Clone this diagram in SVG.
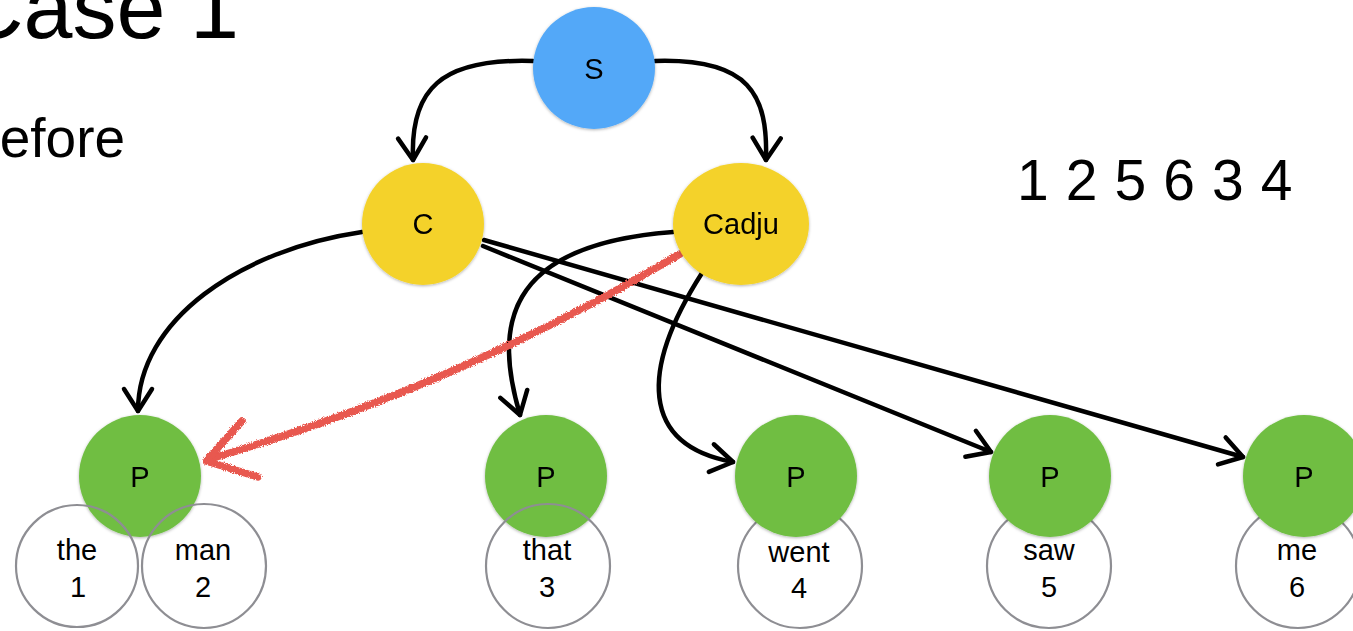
<svg xmlns="http://www.w3.org/2000/svg" width="1353" height="631" viewBox="0 0 1353 631">
  <style>
    .lbl { font-family: "Liberation Sans", Arial, sans-serif; font-size: 29px; fill: #000; text-anchor: middle; }
    .title { font-family: "Liberation Sans", Arial, sans-serif; fill: #000; }
    .edge { fill: none; stroke: #000; stroke-width: 4.5; stroke-linecap: round; }
    .word { fill: #fff; stroke: #8e8e93; stroke-width: 2.2; }
    .wordo { fill: none; stroke: #8e8e93; stroke-width: 2.2; }
    .s { fill: #52a8f8; }
    .c { fill: #f4d22a; }
    .p { fill: #6fbe43; }
    .chalk { fill: none; stroke: #e8584f; stroke-width: 7.5; stroke-linecap: round; stroke-linejoin: round; }
  </style>
  <defs>
    <marker id="arr" markerUnits="userSpaceOnUse" markerWidth="44" markerHeight="44" refX="0" refY="0" viewBox="-28 -22 34 44" orient="auto">
      <path d="M-22,-14 L0,0 L-22,14" fill="none" stroke="#000" stroke-width="4.5" stroke-linecap="round" stroke-linejoin="round"/>
    </marker>
    <filter id="sh" x="-20%" y="-20%" width="140%" height="140%">
      <feDropShadow dx="0" dy="1" stdDeviation="1.5" flood-color="#000" flood-opacity="0.3"/>
    </filter>
    <filter id="rough" x="-10%" y="-10%" width="120%" height="120%">
      <feTurbulence type="fractalNoise" baseFrequency="0.9" numOctaves="2" seed="3" result="n"/>
      <feDisplacementMap in="SourceGraphic" in2="n" scale="4.5" xChannelSelector="R" yChannelSelector="G"/>
    </filter>
  </defs>

  <rect width="1353" height="631" fill="#fff"/>

  <text class="title" x="-40" y="38" font-size="88">Case 1</text>
  <text class="title" x="-37" y="157" font-size="55">Before</text>
  <text class="title" x="1017" y="200" font-size="57" letter-spacing="0.6">1 2 5 6 3 4</text>

  <g id="connectors">
    <path class="edge" d="M533,61 C440,58 410,90 413,160" marker-end="url(#arr)"/>
    <path class="edge" d="M655,61 C750,58 768,95 766,160" marker-end="url(#arr)"/>
    <path class="edge" d="M362,232 C240,250 138,320 138,411" marker-end="url(#arr)"/>
    <path class="edge" d="M673,232 C500,245 495,330 520,415" marker-end="url(#arr)"/>
    <path class="edge" d="M702,273 C640,370 640,445 733,462" marker-end="url(#arr)"/>
    <path class="edge" d="M483,246 L991,452" marker-end="url(#arr)"/>
    <path class="edge" d="M484,240 L1243,457" marker-end="url(#arr)"/>
    <g id="red-arrow" filter="url(#rough)">
      <path class="chalk" d="M680,254 Q460,385 213,458"/>
      <path class="chalk" d="M242,421 L206,461 L258,477"/>
    </g>
  </g>

  <g id="word-went"><circle class="word" cx="800" cy="566" r="62"/><text class="lbl" x="799" y="562">went</text><text class="lbl" x="799" y="598">4</text></g>
  <g id="word-saw"><circle class="word" cx="1049" cy="566" r="62"/><text class="lbl" x="1049" y="560">saw</text><text class="lbl" x="1049" y="597">5</text></g>
  <g id="word-me"><circle class="word" cx="1298" cy="566" r="62"/><text class="lbl" x="1297" y="560">me</text><text class="lbl" x="1297" y="597">6</text></g>

  <g id="node-S" filter="url(#sh)"><circle class="s" cx="594" cy="68" r="61"/><text class="lbl" x="594" y="79">S</text></g>
  <g id="node-C" filter="url(#sh)"><circle class="c" cx="423" cy="224" r="61"/><text class="lbl" x="423" y="234">C</text></g>
  <g id="node-Cadju" filter="url(#sh)"><ellipse class="c" cx="741" cy="224" rx="68" ry="61"/><text class="lbl" x="741" y="234">Cadju</text></g>

  <g id="node-P1" filter="url(#sh)"><circle class="p" cx="140" cy="476" r="61"/><text class="lbl" x="140" y="487">P</text></g>
  <g id="node-P3" filter="url(#sh)"><circle class="p" cx="546" cy="476" r="61"/><text class="lbl" x="546" y="487">P</text></g>
  <g id="node-P4" filter="url(#sh)"><circle class="p" cx="796" cy="476" r="61"/><text class="lbl" x="796" y="487">P</text></g>
  <g id="node-P5" filter="url(#sh)"><circle class="p" cx="1050" cy="476" r="61"/><text class="lbl" x="1050" y="487">P</text></g>
  <g id="node-P6" filter="url(#sh)"><circle class="p" cx="1304" cy="476" r="61"/><text class="lbl" x="1304" y="487">P</text></g>

  <g id="word-the"><circle class="wordo" cx="77" cy="566" r="61"/><text class="lbl" x="77" y="560">the</text><text class="lbl" x="78" y="597">1</text></g>
  <g id="word-man"><circle class="wordo" cx="204" cy="566" r="62"/><text class="lbl" x="203" y="560">man</text><text class="lbl" x="203" y="597">2</text></g>
  <g id="word-that"><circle class="wordo" cx="548" cy="566" r="62"/><text class="lbl" x="547" y="560">that</text><text class="lbl" x="547" y="597">3</text></g>
</svg>
